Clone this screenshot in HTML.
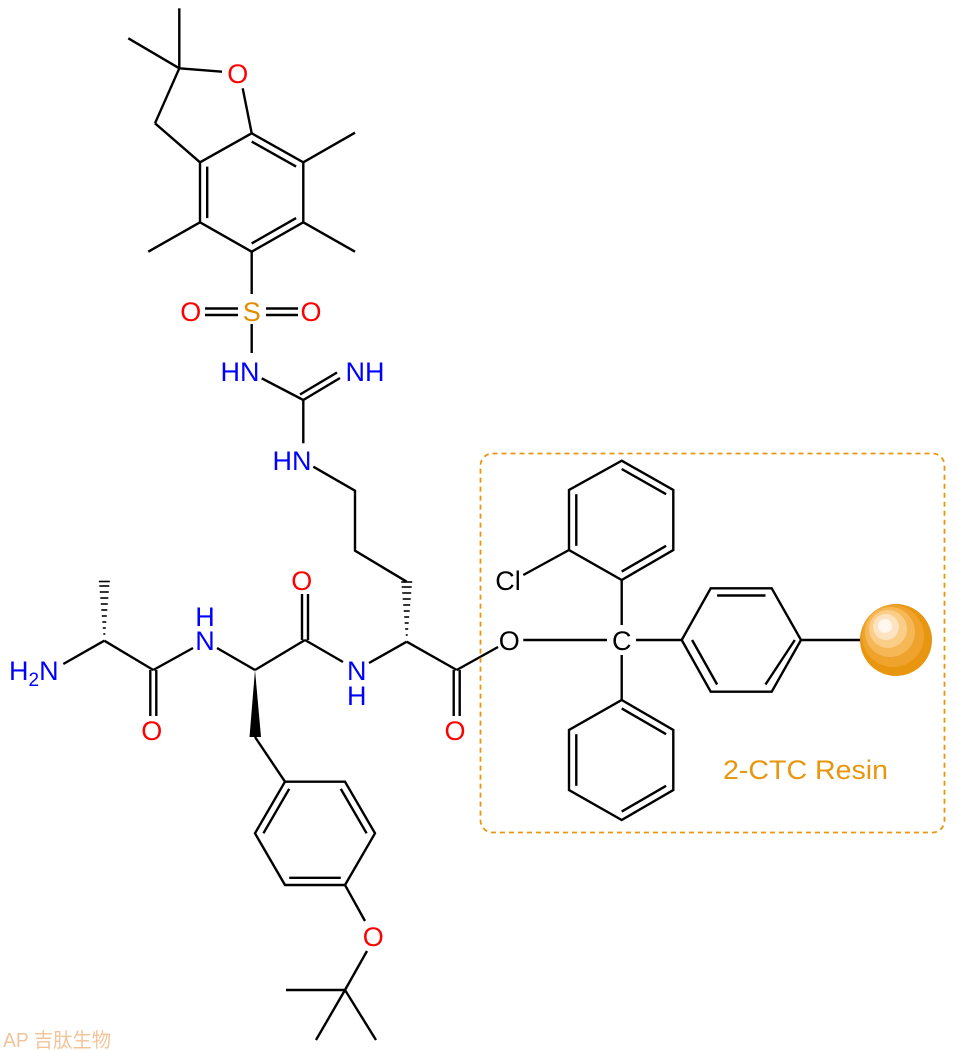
<!DOCTYPE html>
<html><head><meta charset="utf-8"><style>
html,body{margin:0;padding:0;background:#fff;}
svg{display:block;}
</style></head><body>
<svg width="957" height="1051" viewBox="0 0 957 1051" xmlns="http://www.w3.org/2000/svg" font-family="Liberation Sans, Arial, sans-serif">
<g stroke="#000" stroke-width="2.4" fill="none" stroke-linecap="butt">
<line x1="179.3" y1="8.3" x2="179.3" y2="68.3"/>
<line x1="128.3" y1="38.3" x2="179.3" y2="68.3"/>
<line x1="179.3" y1="68.3" x2="222" y2="71.7"/>
<line x1="179.3" y1="68.3" x2="155" y2="123.3"/>
<line x1="155" y1="123.3" x2="200" y2="162.3"/>
<line x1="242.7" y1="88.3" x2="251.7" y2="133.3"/>
<polyline points="200,162.3 251.7,133.3 303.3,162.3 303.3,222.3 251.7,251.7 200,222.3 200,162.3"/>
<line x1="251.7" y1="141.6" x2="296.1" y2="166.6"/>
<line x1="207.2" y1="166.6" x2="207.2" y2="218.1"/>
<line x1="251.7" y1="243.4" x2="296.1" y2="218.1"/>
<line x1="303.3" y1="162.3" x2="355" y2="132.7"/>
<line x1="303.3" y1="222.3" x2="355" y2="251.7"/>
<line x1="200" y1="222.3" x2="148.3" y2="251.7"/>
<line x1="251.7" y1="251.7" x2="251.7" y2="294"/>
<line x1="205" y1="308.5" x2="238" y2="308.5"/>
<line x1="205" y1="315" x2="238" y2="315"/>
<line x1="266" y1="308.5" x2="298" y2="308.5"/>
<line x1="266" y1="315" x2="298" y2="315"/>
<line x1="251.7" y1="324" x2="251.7" y2="353"/>
<line x1="261.7" y1="378.3" x2="303.3" y2="400"/>
<line x1="303.3" y1="400" x2="340" y2="378"/>
<line x1="300" y1="394.5" x2="337" y2="372.5"/>
<line x1="303.3" y1="400" x2="303.3" y2="443.3"/>
<polyline points="313.3,466.7 355,490.7 355,550.7 406.7,581.7"/>
<line x1="63.3" y1="664" x2="104.3" y2="640.7"/>
<line x1="104.3" y1="640.7" x2="153.3" y2="670"/>
<line x1="150.3" y1="670" x2="150.3" y2="716"/>
<line x1="156.3" y1="670" x2="156.3" y2="716"/>
<line x1="153.3" y1="670" x2="193" y2="648"/>
<line x1="217" y1="648" x2="255" y2="670"/>
<line x1="255" y1="670" x2="305" y2="640"/>
<line x1="302" y1="640" x2="302" y2="594"/>
<line x1="308" y1="640" x2="308" y2="594"/>
<line x1="305" y1="640" x2="343" y2="662"/>
<line x1="255" y1="737" x2="285" y2="781.7"/>
<polygon points="285,781.7 345,781.7 375,833.3 345,885 285,885 255,833.3"/>
<line x1="289.2" y1="788.9" x2="263.4" y2="833.3"/>
<line x1="340.8" y1="788.9" x2="366.6" y2="833.3"/>
<line x1="340.8" y1="877.8" x2="289.2" y2="877.8"/>
<line x1="345" y1="885" x2="365" y2="921"/>
<line x1="367" y1="951" x2="345" y2="990"/>
<line x1="286" y1="990" x2="345" y2="990"/>
<line x1="316" y1="1040" x2="345" y2="990"/>
<line x1="376" y1="1040" x2="345" y2="990"/>
<line x1="369" y1="663" x2="406.7" y2="641.7"/>
<line x1="406.7" y1="641.7" x2="456.7" y2="670"/>
<line x1="453.7" y1="670" x2="453.7" y2="716"/>
<line x1="459.7" y1="670" x2="459.7" y2="716"/>
<line x1="456.7" y1="670" x2="498" y2="647"/>
<line x1="523.3" y1="640" x2="607" y2="640"/>
<line x1="621.7" y1="580" x2="621.7" y2="625"/>
<line x1="621.7" y1="655" x2="621.7" y2="700"/>
<line x1="636" y1="640" x2="681.7" y2="640"/>
<polygon points="621.7,460.7 673.3,490 673.3,550 621.7,580 569,550 569,490"/>
<line x1="621.7" y1="469" x2="666.1" y2="494.2"/>
<line x1="576.3" y1="494.2" x2="576.3" y2="545.8"/>
<line x1="666.1" y1="545.8" x2="621.7" y2="571.6"/>
<line x1="569" y1="550" x2="523.3" y2="575"/>
<polygon points="621.7,700 673.3,730 673.3,790 621.7,820 569,790 569,730"/>
<line x1="621.7" y1="708.4" x2="666.1" y2="734.2"/>
<line x1="576.3" y1="734.2" x2="576.3" y2="785.8"/>
<line x1="666.1" y1="785.8" x2="621.7" y2="811.6"/>
<polygon points="681.7,640 710.7,588.3 771.7,588.3 801,640 771.7,691.7 710.7,691.7"/>
<line x1="717.1" y1="595.5" x2="765.5" y2="595.5"/>
<line x1="692.1" y1="640" x2="717.1" y2="684.5"/>
<line x1="794.8" y1="640" x2="765.5" y2="684.5"/>
<line x1="801" y1="640" x2="860" y2="640"/>
</g>
<g stroke="#000" stroke-width="1.6">
<line x1="103.3" y1="634" x2="105.3" y2="634"/>
<line x1="102.8" y1="628" x2="105.8" y2="628"/>
<line x1="102.3" y1="622" x2="106.3" y2="622"/>
<line x1="101.8" y1="616" x2="106.8" y2="616"/>
<line x1="101.3" y1="610" x2="107.3" y2="610"/>
<line x1="100.8" y1="604" x2="107.8" y2="604"/>
<line x1="100.3" y1="598" x2="108.3" y2="598"/>
<line x1="99.8" y1="592" x2="108.8" y2="592"/>
<line x1="99.3" y1="586" x2="109.3" y2="586"/>
<line x1="98.8" y1="581.5" x2="109.8" y2="581.5"/>
<line x1="405.7" y1="635" x2="407.7" y2="635"/>
<line x1="405.2" y1="629" x2="408.2" y2="629"/>
<line x1="404.7" y1="623" x2="408.7" y2="623"/>
<line x1="404.2" y1="617" x2="409.2" y2="617"/>
<line x1="403.7" y1="611" x2="409.7" y2="611"/>
<line x1="403.2" y1="605" x2="410.2" y2="605"/>
<line x1="402.7" y1="599" x2="410.7" y2="599"/>
<line x1="402.2" y1="593" x2="411.2" y2="593"/>
<line x1="401.7" y1="587" x2="411.7" y2="587"/>
<line x1="401.2" y1="582" x2="412.2" y2="582"/>
</g>
<polygon points="255,670 249.5,737 261,737" fill="#000"/>
<g text-anchor="middle" font-size="27">
<text x="237.7" y="83" fill="#f00">O</text>
<text x="190.7" y="321" fill="#f00">O</text>
<text x="251.7" y="321" fill="#e08e00">S</text>
<text x="311" y="321" fill="#f00">O</text>
<text x="240" y="381" fill="#00f">HN</text>
<text x="365" y="381" fill="#00f">NH</text>
<text x="292" y="470" fill="#00f">HN</text>
<text x="205" y="626" fill="#00f">H</text>
<text x="205" y="650" fill="#00f">N</text>
<text x="151.7" y="740" fill="#f00">O</text>
<text x="301.7" y="590" fill="#f00">O</text>
<text x="356.7" y="680" fill="#00f">N</text>
<text x="356.7" y="705" fill="#00f">H</text>
<text x="455" y="740" fill="#f00">O</text>
<text x="373.3" y="946" fill="#f00">O</text>
<text x="509.3" y="650">O</text>
<text x="621.7" y="650">C</text>
<text x="508" y="590">Cl</text>
</g>
<text x="9" y="680" fill="#00f" font-size="27">H<tspan font-size="19" dy="6">2</tspan><tspan dy="-6">N</tspan></text>
<rect x="480.5" y="453.5" width="464" height="379" rx="12" ry="12" fill="none" stroke="#e8960e" stroke-width="1.8" stroke-dasharray="5,4"/>
<circle cx="896" cy="640" r="36" fill="#e8950f"/>
<circle cx="893" cy="636" r="31" fill="#f0a32c"/>
<circle cx="890" cy="632" r="25" fill="#f6b856"/>
<circle cx="888" cy="629" r="19" fill="#facd88"/>
<circle cx="886" cy="627" r="13" fill="#fde3c0"/>
<circle cx="885" cy="626" r="7" fill="#fff6ee"/>
<text x="723" y="779" fill="#e8960e" font-size="27" textLength="165" lengthAdjust="spacingAndGlyphs">2-CTC Resin</text>
<text x="3" y="1047" fill="#f3c49a" font-size="20" font-family="Liberation Sans, Noto Sans CJK SC, sans-serif" textLength="108" lengthAdjust="spacingAndGlyphs">AP 吉肽生物</text>
</svg>
</body></html>
